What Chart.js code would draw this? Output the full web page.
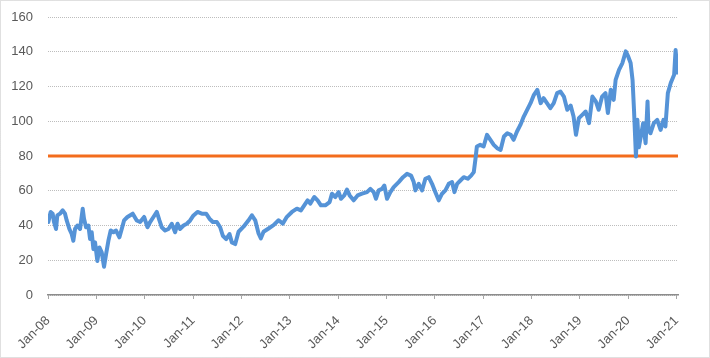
<!DOCTYPE html>
<html>
<head>
<meta charset="utf-8">
<script src="https://cdn.jsdelivr.net/npm/chart.js@4/dist/chart.umd.min.js"></script>
<style>
html,body{margin:0;padding:0;background:#fff;}
#wrap{width:710px;height:358px;}
</style>
</head>
<body>
<div id="wrap"><canvas id="c" width="710" height="358"></canvas></div>
<script>
// time in years since Jan-2008
const years = [
0.007,0.055,0.097,0.124,0.166,0.193,0.248,0.304,0.352,0.387,0.442,0.490,0.524,0.559,0.607,0.663,0.718,0.745,0.787,0.835,
0.870,0.904,0.939,0.973,1.021,1.063,1.111,1.159,1.201,1.249,1.297,1.353,1.408,1.477,1.525,1.573,1.643,1.753,1.836,1.905,
1.988,2.057,2.112,2.181,2.250,2.305,2.353,2.422,2.491,2.560,2.629,2.678,2.733,2.802,2.871,2.940,3.009,3.092,3.181,3.271,
3.340,3.409,3.492,3.561,3.616,3.685,3.754,3.803,3.872,3.941,4.044,4.148,4.217,4.286,4.355,4.403,4.458,4.562,4.665,4.769,
4.858,4.941,5.045,5.148,5.231,5.300,5.369,5.424,5.507,5.576,5.645,5.735,5.825,5.873,5.942,6.011,6.059,6.128,6.184,6.239,
6.322,6.404,6.494,6.598,6.667,6.736,6.784,6.839,6.908,6.957,7.012,7.081,7.150,7.253,7.343,7.426,7.509,7.564,7.598,7.667,
7.736,7.805,7.875,7.943,8.012,8.081,8.150,8.219,8.288,8.357,8.406,8.461,8.530,8.599,8.682,8.751,8.806,8.841,8.87,8.94,
9.01,9.08,9.15,9.22,9.29,9.36,9.43,9.50,9.57,9.63,9.70,9.77,9.84,9.91,9.98,10.05,10.12,10.19,10.25,10.32,
10.39,10.46,10.53,10.60,10.67,10.74,10.81,10.87,10.92,10.98,11.05,11.12,11.19,11.26,11.33,11.39,11.46,11.53,11.58,11.64,
11.70,11.74,11.81,11.88,11.95,12.00,12.05,12.09,12.12,12.16,12.19,12.22,12.26,12.31,12.36,12.40,12.42,12.46,12.53,12.60,
12.67,12.73,12.77,12.82,12.88,12.95,12.98,13.01,13.02
];
const values = [
42,47.8,46.8,42,38,45.8,46.8,48.7,46.8,42.9,38,35.1,31.2,38,40,38,49.7,43.9,39,40,
32.2,36.1,26.4,30.3,19.6,27.4,24.5,16.3,23.5,31.2,37.1,36.1,37.1,33.2,38,42.9,44.9,46.8,42.9,42,
44.9,39,42,44.9,47.8,42.9,39,37.1,38,41,36.1,41,38,40,41,42.9,45.8,47.8,46.8,46.8,
43.9,42,42,39,34.1,32.2,35.1,30.3,29.3,36.4,39.3,43,45.9,43,35.4,32.6,36.4,38.3,40.2,43,
41.1,45,47.8,49.7,48.7,51.6,54.5,52.6,56.4,54.5,51.6,51.6,53.5,58.3,56.4,59.2,55.4,57.3,60.7,57.3,
54.5,57.3,58.3,59.2,61.1,59.2,55.4,60.2,61.1,63,55.4,59.2,62.1,65,67.8,69.7,68.7,65,60.2,64,
60.2,66.9,67.8,64,59.2,54.5,58.3,60.2,64,65,59.2,64,65.9,67.8,66.9,68.7,70.7,78.3,85.5,86.4,
85.5,92.2,89.3,86.4,84.5,83.5,91.2,93.1,92.2,89.3,94.1,97.9,102.7,106.6,110.4,115.2,118.1,110.4,113.3,110.4,
107.5,110.4,116.2,117.1,114.2,106.6,109,102.7,92.2,101.8,103.7,105.6,98.9,114.2,111.4,106.6,114.2,116.2,104.7,118.1,
112.3,123.8,129.6,133.5,140.2,137.3,133.5,123.8,106.6,79.7,100.8,85,91.2,98.9,87.4,111.4,95,93.1,98.9,100.8,
95,100.8,97,116.2,122,126.7,141,131.5,128
];
const thresholdValue = 80;
const thresholdSpan = [0, 13.03];
const tickLabels = ["Jan-08","Jan-09","Jan-10","Jan-11","Jan-12","Jan-13","Jan-14","Jan-15","Jan-16","Jan-17","Jan-18","Jan-19","Jan-20","Jan-21"];
const yTicks = [0,20,40,60,80,100,120,140,160];

const seriesData = years.map((t,i)=>({x:t,y:values[i]}));
const thresholdData = thresholdSpan.map(t=>({x:t,y:thresholdValue}));

const frame = {
  id:'frame',
  afterDraw(chart){
    const ctx = chart.ctx;
    ctx.save();
    ctx.strokeStyle = '#c0c0c0';
    ctx.lineWidth = 1;
    ctx.setLineDash([1,1]);
    ctx.strokeRect(0.5,0.5,709,357);
    ctx.restore();
  }
};

const font = {family:"'Liberation Sans', Arial, sans-serif", size:13};

new Chart(document.getElementById('c'), {
  type:'line',
  data:{
    datasets:[
      {data:thresholdData, borderColor:'#f36c1c', borderWidth:3, pointRadius:0, order:2},
      {data:seriesData, borderColor:'#5593d7', borderWidth:4, pointRadius:0, tension:0, order:1, borderJoinStyle:'round', borderCapStyle:'round'}
    ]
  },
  options:{
    responsive:false,
    animation:false,
    plugins:{legend:{display:false}, tooltip:{enabled:false}},
    layout:{padding:{left:0,right:32,top:17,bottom:0}},
    scales:{
      x:{
        type:'linear', min:0, max:13.03,
        afterBuildTicks(s){ s.ticks = tickLabels.map((_,i)=>({value:i})); },
        afterFit(s){ s.height = 63; },
        grid:{display:true, drawOnChartArea:false, drawTicks:true, tickLength:4, color:'#a6a6a6'},
        border:{display:true, color:'#8c8c8c', width:1.5},
        ticks:{
          autoSkip:false, maxRotation:45, minRotation:45, padding:14,
          color:'#595959', font:font,
          callback:(v)=>tickLabels[Math.round(v)]
        }
      },
      y:{
        min:0, max:160,
        afterBuildTicks(s){ s.ticks = yTicks.map(v=>({value:v})); },
        afterFit(s){ s.width = 48; },
        grid:{color:'#bdbdbd', drawTicks:true, tickLength:12, tickColor:'rgba(0,0,0,0)', lineWidth:1},
        border:{display:false, dash:[1,1]},
        ticks:{padding:3, color:'#595959', font:font}
      }
    }
  },
  plugins:[frame]
});
</script>
</body>
</html>
